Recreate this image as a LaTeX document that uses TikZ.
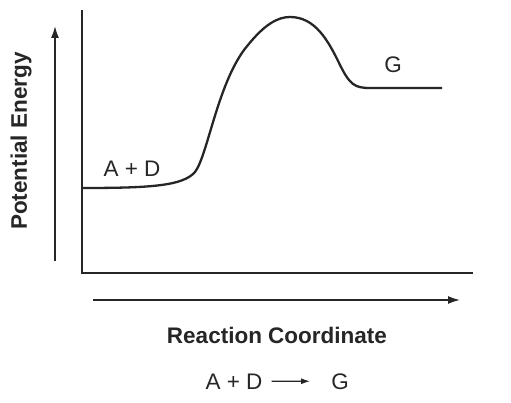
\documentclass[tikz,border=0pt]{standalone}
\usepackage{fontspec}
\setmainfont{Liberation Sans}
\usetikzlibrary{calc,arrows.meta}
\colorlet{ink}{black!85}
\tikzset{>={Latex[length=12pt,width=8pt]}}
\tikzset{
  axis/.style  = {draw=ink, line width=1.6pt},
  label/.style = {text=ink, inner sep=0pt, font=\fontsize{22.5}{26}\selectfont},
  curve/.style = {draw=ink, line width=2.3pt, line join=round}
}
\begin{document}
\begin{tikzpicture}[x=1pt,y=-1pt]
  \useasboundingbox (0,0) rectangle (511,403);
  \pgfmathsetmacro{\xaxis}{82}        % x position of energy axis
  \pgfmathsetmacro{\yaxis}{273}       % y position of coordinate axis
  \pgfmathsetmacro{\xend}{473}        % right end of coordinate axis
  \pgfmathsetmacro{\yreac}{188}       % energy of reactants
  \pgfmathsetmacro{\yprod}{88}        % energy of products
  % axes
  \draw[axis] (\xaxis,10) -- (\xaxis,\yaxis) -- (\xend,\yaxis);
  % axis arrows
  \coordinate (EA) at (55,261);
  \coordinate (EB) at (55,26);
  \coordinate (RA) at (93,300);
  \coordinate (RB) at (460,300);
  \draw[axis,->] (EA) -- (EB);
  \draw[axis,->] (RA) -- (RB);
  % energy profile
  \draw[curve] (\xaxis,\yreac) .. controls (150,\yreac) and (183,186) .. (195,172)
    .. controls (208,155) and (218,80) .. (248,45)
    .. controls (265,24) and (278,17) .. (290,17)
    .. controls (315,17) and (328,40) .. (340,65)
    .. controls (350,85) and (355,\yprod) .. (370,\yprod)
    -- (442,\yprod);
  % labels
  \node[label,rotate=90,font=\fontsize{22.5}{26}\selectfont\bfseries] (energy) at (21,141) {Potential Energy};
  \node[label,anchor=base,font=\fontsize{22.5}{26}\selectfont\bfseries] (coord) at (277,343) {Reaction Coordinate};
  \node[label,anchor=base] (reac) at (132,177) {A + D};
  \node[label,anchor=base] (prod) at (393,73) {G};
  % reaction equation
  \node[label,anchor=base] (eqreac) at (234,389) {A + D};
  \node[label,anchor=base] (eqprod) at (340,389) {G};
  \draw[ink,line width=1.2pt,-{Latex[length=9pt,width=6pt]},shorten <=9pt,shorten >=21pt] (eqreac.east) -- (eqprod.west);
\end{tikzpicture}
\end{document}
